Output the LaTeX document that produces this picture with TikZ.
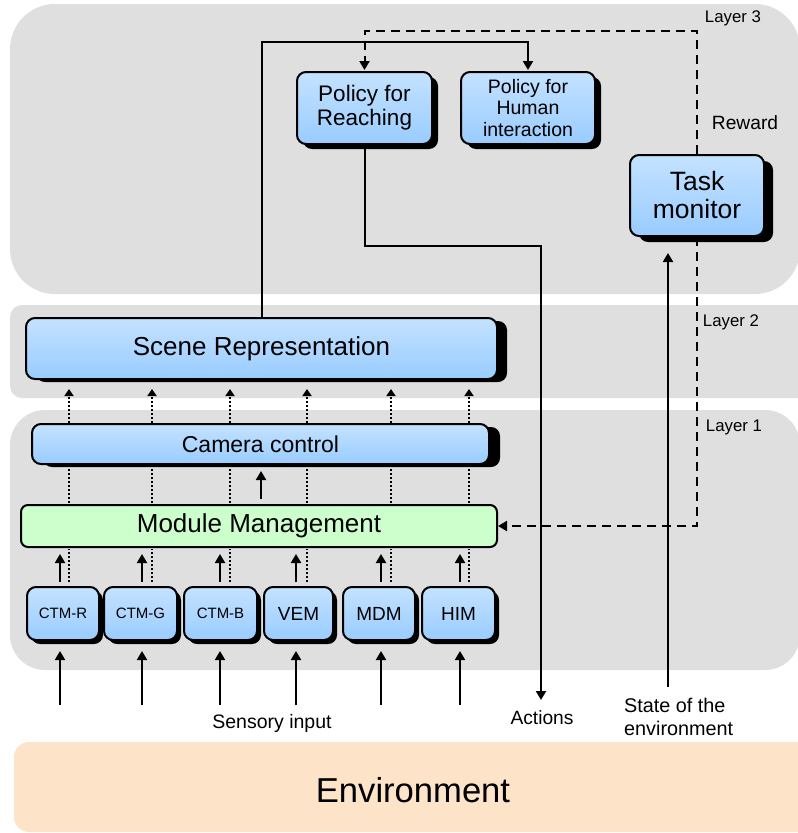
\documentclass[tikz,border=0pt]{standalone}
\usepackage{fontspec}
\setmainfont{Liberation Sans}
\usetikzlibrary{arrows.meta,shadows}

\definecolor{layergray}{HTML}{DFDFDF}
\definecolor{boxtop}{HTML}{C4E2FF}
\definecolor{boxbot}{HTML}{99CCFF}
\definecolor{mmgreen}{HTML}{CCFFCC}
\definecolor{envpeach}{HTML}{FDE3C8}

\newcommand\setfs[2]{\fontsize{#1}{#2}\selectfont}

\tikzset{
  layerbg/.style={fill=layergray, draw=none},
  blk/.style={draw=black, line width=2pt, rounded corners=9pt,
    top color=boxtop, bottom color=boxbot, inner sep=0pt, align=center},
  shadowed/.style 2 args={drop shadow={shadow xshift=#1pt, shadow yshift=-#2pt,
    shadow scale=1, opacity=1, fill=black}},
  lbl/.style={inner sep=0pt, align=center},
  arr/.style={line width=2pt, -{Triangle[width=10pt,length=9pt]}},
  dashline/.style={line width=2pt, dash pattern=on 9pt off 6pt},
  dotline/.style={line width=2pt, dash pattern=on 2pt off 2pt},
}

\begin{document}
\begin{tikzpicture}[x=1pt, y=-1pt]
\path[use as bounding box] (0,0) rectangle (798,833);
\clip (0,0) rectangle (798,833);

% layer backgrounds and environment band
\fill[layerbg, rounded corners=45pt] (10,4) rectangle (800,294);
\fill[layerbg, rounded corners=12pt] (10,305) rectangle (830,398);
\fill[layerbg, rounded corners=35pt] (10,410) rectangle (800,670);
\fill[envpeach, rounded corners=15pt] (14,742) rectangle (830,832);

% layer 3
\node[blk, shadowed={6}{5}, minimum width=135pt, minimum height=72pt,
      font=\setfs{22.5}{24}] (preach) at (364.5,108) {Policy for\\Reaching};
\node[blk, shadowed={6}{5}, minimum width=134pt, minimum height=72pt,
      font=\setfs{19.5}{21.5}] (phuman) at (528,108) {Policy for\\Human\\interaction};
\node[blk, shadowed={9}{6}, minimum width=134pt, minimum height=81pt,
      font=\setfs{26.5}{28}] (task) at (697,195.5) {Task\\monitor};

% layer 2
\node[blk, shadowed={10}{3}, minimum width=471pt, minimum height=61pt,
      font=\setfs{26}{28}] (scene) at (261.5,348.5) {Scene Representation};

% layer 1
\node[blk, shadowed={11}{3}, minimum width=457pt, minimum height=40pt,
      font=\setfs{23}{25}] (camera) at (260.5,444) {Camera control};
\node[blk, top color=mmgreen, bottom color=mmgreen, rounded corners=7pt,
      minimum width=476pt, minimum height=42pt,
      font=\setfs{26}{28}] (mm) at (259,526) {Module Management};

\foreach \nm/\cx/\w/\txt/\fs in {ctmr/63/72/CTM-R/15, ctmg/140.5/73/CTM-G/15,
    ctmb/220.5/73/CTM-B/15, vem/298.5/69/VEM/19, mdm/379/72/MDM/19, him/458.5/73/HIM/19}
  \node[blk, shadowed={4}{4}, minimum width=\w pt, minimum height=53pt,
        font=\setfs{\fs}{18}] (\nm) at (\cx,613.5) {\txt};

% text labels
\node[lbl, font=\setfs{16.8}{19}] (l3) at (733,18) {Layer 3};
\node[lbl, font=\setfs{16.8}{19}] (l2) at (731,322) {Layer 2};
\node[lbl, font=\setfs{16.8}{19}] (l1) at (734,427) {Layer 1};
\node[lbl, font=\setfs{19.2}{22}] (reward) at (745,123) {Reward};
\node[lbl, font=\setfs{19.5}{22}] (sensory) at (272,723) {Sensory input};
\node[lbl, font=\setfs{19.2}{22}] (actions) at (542,718) {Actions};
\node[lbl, font=\setfs{19.8}{23}, align=left, anchor=west] (state) at (624,716.5)
      {State of the\\environment};
\node[lbl, font=\setfs{34.6}{38}] (env) at (413,790) {Environment};

% sensory inputs into the modules
\foreach \nm/\ax in {ctmr/60, ctmg/142, ctmb/220, vem/296, mdm/381, him/460}{
  \coordinate (src-\nm) at (\ax,705);
  \draw[arr, shorten >=10pt] (src-\nm) -- (\ax,0 |- \nm.south);
  \draw[arr, shorten <=4pt, shorten >=6pt] (\ax,0 |- \nm.north) -- (\ax,0 |- mm.south);
}

% dotted pass-through columns
\foreach \nm/\dx in {ctmr/69, ctmg/152, ctmb/230, vem/307, mdm/391, him/469}{
  \draw[dotline, shorten <=4pt, shorten >=1pt] (\dx,0 |- \nm.north) -- (\dx,0 |- mm.south);
  \draw[dotline, shorten <=1pt, shorten >=3pt] (\dx,0 |- mm.north) -- (\dx,0 |- camera.south);
  \draw[dotline, -{Triangle[width=9pt,length=7pt]}, shorten >=9pt]
        (\dx,0 |- camera.north) -- (\dx,0 |- scene.south);
}

% module management to camera control
\draw[arr, shorten <=5pt, shorten >=6pt] (261,0 |- mm.north) -- (261,0 |- camera.south);

% scene representation to human interaction policy
\draw[arr, shorten >=1pt] (262,0 |- scene.north) -- (262,42) -| (phuman.north);

% reward signal from the task monitor
\draw[dashline, -{Triangle[width=10pt,length=9pt]}, shorten >=1pt]
      (task.north) -- (697,31) -| (preach.north);
\draw[dashline, -{Triangle[width=10pt,length=9pt]}]
      (task.south) |- (mm.east);

% actions out of the reaching policy
\coordinate (actend) at (541,700);
\draw[arr] (preach.south) |- (541,246) -- (actend);

% environment state into the task monitor
\coordinate (stbase) at (668,687);
\draw[arr, shorten >=16pt] (stbase) -- (668,0 |- task.south);
\end{tikzpicture}
\end{document}
